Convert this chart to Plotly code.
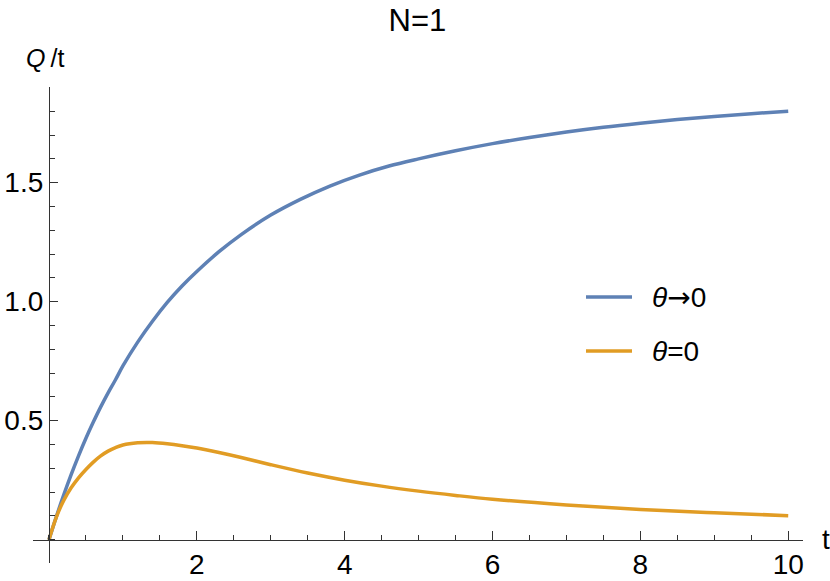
import plotly.graph_objects as go

# values
t_blue = [0, 0.1, 0.2, 0.3, 0.4, 0.5, 0.6, 0.7, 0.8, 0.9, 1.0, 1.2, 1.4, 1.6, 1.8, 2.0,
          2.3, 2.6, 3.0, 3.4, 3.8, 4.2, 4.6, 5.0, 5.5, 6.0, 6.5, 7.0, 7.5, 8.0, 8.5, 9.0,
          9.5, 10.0]
q_blue = [0, 0.097, 0.188, 0.273, 0.352, 0.426, 0.494, 0.558, 0.617, 0.672, 0.73, 0.83,
          0.918, 0.997, 1.066, 1.127, 1.21, 1.282, 1.364, 1.43, 1.486, 1.532, 1.57, 1.60,
          1.634, 1.664, 1.69, 1.713, 1.733, 1.75, 1.765, 1.778, 1.79, 1.80]

t_orange = [0, 0.1, 0.2, 0.3, 0.4, 0.5, 0.6, 0.7, 0.8, 0.9, 1.0, 1.2, 1.4, 1.6, 1.8, 2.0,
            2.3, 2.6, 3.0, 3.5, 4.0, 4.5, 5.0, 5.5, 6.0, 7.0, 8.0, 9.0, 10.0]
q_orange = [0, 0.095, 0.165, 0.218, 0.26, 0.295, 0.326, 0.352, 0.372, 0.387, 0.398, 0.407,
            0.408, 0.403, 0.395, 0.385, 0.366, 0.345, 0.315, 0.28, 0.25, 0.225, 0.204,
            0.186, 0.170, 0.146, 0.127, 0.113, 0.101]

names = ["<i>θ</i><span style='font-family:DejaVu Sans'>→</span>0", "<i>θ</i>=0"]
colors = ["#5E81B5", "#E19C24"]

x_tick_vals = [2, 4, 6, 8, 10]
y_tick_vals = [0.5, 1.0, 1.5]
y_tick_text = ["0.5", "1.0", "1.5"]

x_rng = [-0.216, 10.2]
y_rng = [-0.098, 1.902]

font = "Liberation Sans, Arial, sans-serif"
axis_col = "#333333"

fig = go.Figure()
fig.add_trace(go.Scatter(x=t_blue, y=q_blue, mode="lines", name=names[0],
                         line=dict(color=colors[0], width=3.5, shape="spline")))
fig.add_trace(go.Scatter(x=t_orange, y=q_orange, mode="lines", name=names[1],
                         line=dict(color=colors[1], width=3.5, shape="spline")))

# axes cross at the origin, Mathematica style
fig.update_xaxes(
    range=x_rng, anchor="free", position=(0 - y_rng[0]) / (y_rng[1] - y_rng[0]),
    showline=True, linecolor=axis_col, linewidth=1.2,
    showgrid=False, zeroline=False,
    tickvals=x_tick_vals, ticks="inside", ticklen=9, tickwidth=1.2, tickcolor=axis_col,
    minor=dict(tickmode="linear", tick0=0, dtick=0.5, ticks="inside", ticklen=5,
               tickwidth=1, tickcolor=axis_col, showgrid=False),
    tickfont=dict(family=font, size=28, color="black"),
    automargin=False,
)
fig.update_yaxes(
    range=y_rng, anchor="free", position=(0 - x_rng[0]) / (x_rng[1] - x_rng[0]),
    showline=True, linecolor=axis_col, linewidth=1.2,
    showgrid=False, zeroline=False,
    tickvals=y_tick_vals, ticktext=y_tick_text,
    ticks="inside", ticklen=8, tickwidth=1.2, tickcolor=axis_col,
    minor=dict(tickmode="linear", tick0=0, dtick=0.1, ticks="inside", ticklen=5,
               tickwidth=1, tickcolor=axis_col, showgrid=False),
    tickfont=dict(family=font, size=28, color="black"),
    automargin=False,
)

fig.add_annotation(text="<i>Q</i>\u2009/t", xref="paper", yref="paper", x=0.0155, y=1,
                   yshift=29, xanchor="center", yanchor="middle", showarrow=False,
                   font=dict(family=font, size=25, color="black"))
fig.add_annotation(text="t", xref="paper", yref="y", x=1, y=0, xshift=17,
                   xanchor="left", yanchor="middle", showarrow=False,
                   font=dict(family=font, size=28, color="black"))

# legend drawn by hand, placed like the reference
leg_y = [297, 351]
for i in range(2):
    yp = 1 - (leg_y[i] - 87) / (581 - 87 - 18)
    fig.add_shape(type="line", xref="paper", yref="paper",
                  x0=(586 - 33) / 770, x1=(632 - 33) / 770, y0=yp, y1=yp,
                  line=dict(color=colors[i], width=3.5))
    fig.add_annotation(text=names[i], xref="paper", yref="paper",
                       x=(650 - 33) / 770, y=yp, xanchor="left", yanchor="middle",
                       showarrow=False, font=dict(family=font, size=28, color="black"))

fig.update_layout(
    width=830, height=581,
    margin=dict(l=33, r=27, t=87, b=18),
    showlegend=False,
    title=dict(text="N=1", x=0.503, xanchor="center", y=0.965, yanchor="middle",
               font=dict(family=font, size=31, color="black")),
    plot_bgcolor="white", paper_bgcolor="white",
)

fig.write_html("out.html", config={"displayModeBar": False},
               post_script="document.body.style.margin='0';")
